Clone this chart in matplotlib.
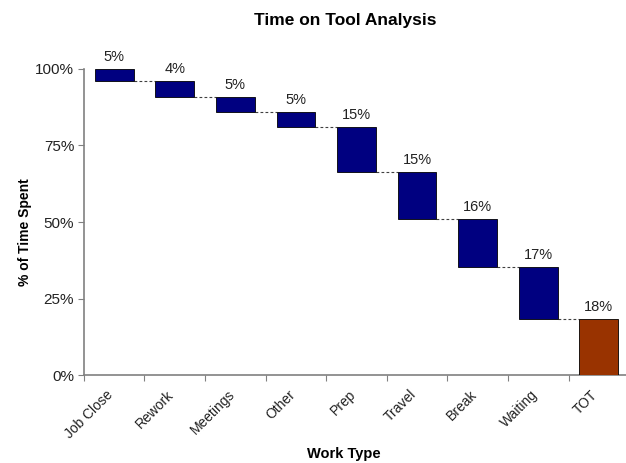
import matplotlib.pyplot as plt
import matplotlib.transforms as mtransforms
import numpy as np

plt.rcParams['font.family'] = ['Liberation Sans', 'DejaVu Sans']

categories = ['Job Close', 'Rework', 'Meetings', 'Other', 'Prep',
              'Travel', 'Break', 'Waiting', 'TOT']
# bar heights (% of time)
heights = [3.8, 5.2, 5.0, 5.0, 14.7, 15.2, 15.7, 17.1, 18.3]
labels = ['5%', '4%', '5%', '5%', '15%', '15%', '16%', '17%', '18%']

# waterfall: each step hangs from the running total, last bar sits on zero
tops = []
bottoms = []
level = 100.0
for h in heights[:-1]:
    tops.append(level)
    bottoms.append(level - h)
    level -= h
tops.append(heights[-1])
bottoms.append(0.0)

fig = plt.figure(figsize=(6.26, 4.63), dpi=100)
ax = fig.add_axes([0.134, 0.190, 0.871, 0.661])

x = np.arange(len(categories)) + 0.5
w = 0.64
colors = ['#000080'] * (len(categories) - 1) + ['#993300']
ax.bar(x, np.array(tops) - np.array(bottoms), bottom=bottoms, width=w,
       color=colors, edgecolor='black', linewidth=0.6, zorder=3)

# dashed connectors between bars
for i in range(len(categories) - 1):
    ax.plot([x[i] + w / 2, x[i + 1] - w / 2], [bottoms[i], bottoms[i]],
            color='#404040', linestyle=(0, (2.5, 2)), linewidth=0.8, zorder=2)

for xi, t, lab in zip(x, tops, labels):
    ax.text(xi, t + 1.6, lab, ha='center', va='bottom', fontsize=10.5,
            color='#222222')

ax.set_xlim(0, len(categories))
ax.set_ylim(0, 100)
ax.set_yticks([0, 25, 50, 75, 100])
ax.set_yticklabels(['0%', '25%', '50%', '75%', '100%'], fontsize=11,
                   color='#222222')

ax.set_xticks(np.arange(len(categories) + 1))
ax.set_xticklabels([])
ax.set_xticks(x, minor=True)
ax.set_xticklabels(categories, minor=True, rotation=45, ha='right',
                   rotation_mode='anchor', fontsize=10, color='#222222')
ax.tick_params(axis='x', which='minor', length=0, pad=9)
ax.tick_params(axis='x', which='major', length=4, color='#808080')
ax.tick_params(axis='y', length=4, color='#808080', pad=3)

shift = mtransforms.ScaledTranslation(-8 / 100, 0, fig.dpi_scale_trans)
for lbl in ax.get_xticklabels(minor=True):
    lbl.set_transform(lbl.get_transform() + shift)

for s in ['top', 'right']:
    ax.spines[s].set_visible(False)
for s in ['left', 'bottom']:
    ax.spines[s].set_color('#808080')
    ax.spines[s].set_linewidth(1.2)

fig.text(0.551, 0.955, 'Time on Tool Analysis', ha='center', va='center',
         fontsize=12.5, fontweight='bold')
fig.text(0.040, 0.499, '% of Time Spent', ha='center', va='center',
         rotation=90, fontsize=10, fontweight='bold')
fig.text(0.549, 0.019, 'Work Type', ha='center', va='center',
         fontsize=10.5, fontweight='bold')

fig.savefig('out.png', dpi=100)
